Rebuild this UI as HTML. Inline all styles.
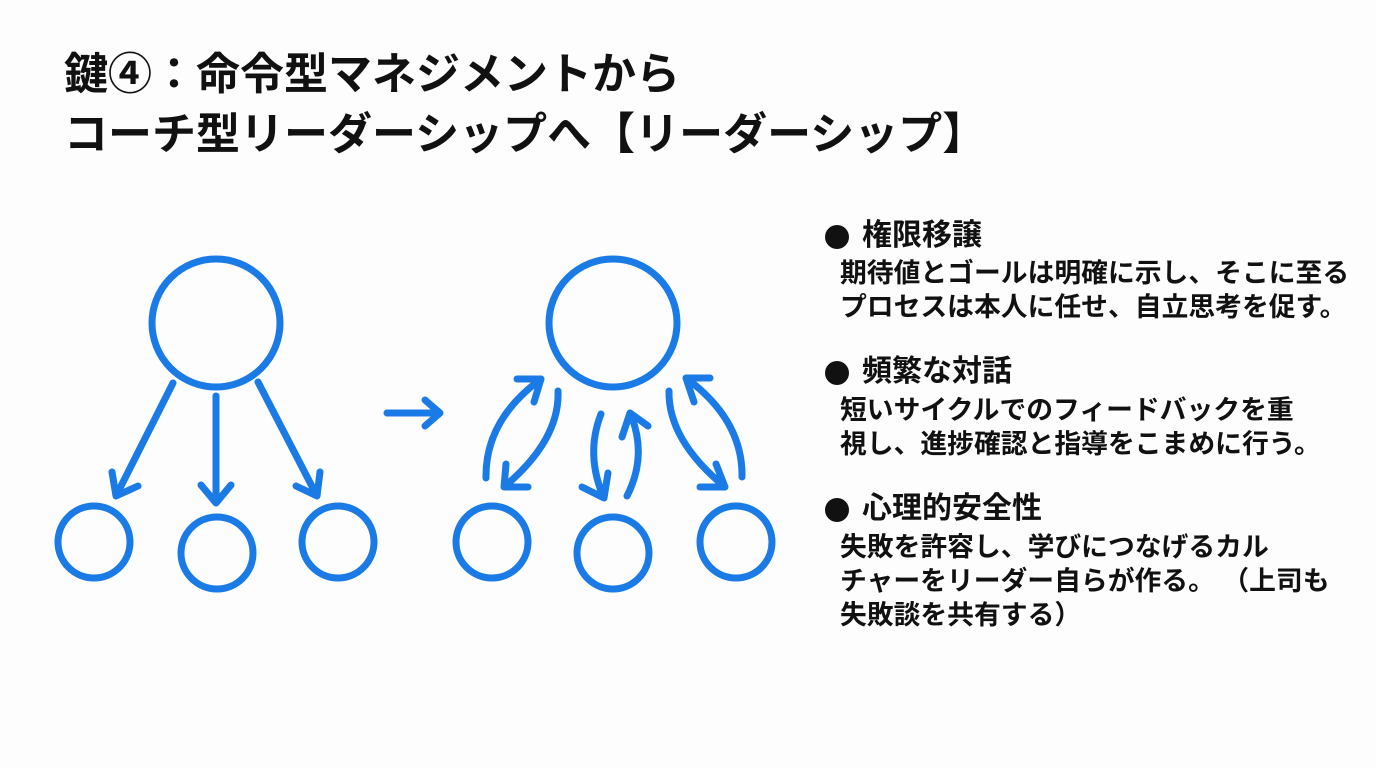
<!DOCTYPE html>
<html><head><meta charset="utf-8"><style>
body{margin:0;width:1376px;height:768px;background:#fdfdfd;overflow:hidden;position:relative;font-family:"Liberation Sans","Noto Sans CJK JP",sans-serif;color:#111}
.t{position:absolute;white-space:nowrap;font-weight:bold}
.title{font-size:44px;left:64px;line-height:1}
.h{font-size:30px;left:862px;line-height:1}
.dot{position:absolute;left:825px;width:24px;height:24px;border-radius:50%;background:#111}
.b{font-size:26.8px;left:840px;line-height:1;font-weight:600}
</style></head><body>
<div class="t title" style="top:53px">鍵④：命令型マネジメントから</div>
<div class="t title" style="top:113px">コーチ型リーダーシップへ【リーダーシップ】</div>

<div class="dot" style="top:225px"></div>
<div class="t h" style="top:221px">権限移譲</div>
<div class="t b" style="top:260px">期待値とゴールは明確に示し、そこに至る</div>
<div class="t b" style="top:294px">プロセスは本人に任せ、自立思考を促す。</div>
<div class="dot" style="top:361px"></div>
<div class="t h" style="top:357px">頻繁な対話</div>
<div class="t b" style="top:397px">短いサイクルでのフィードバックを重</div>
<div class="t b" style="top:431px">視し、進捗確認と指導をこまめに行う。</div>
<div class="dot" style="top:498px"></div>
<div class="t h" style="top:494px">心理的安全性</div>
<div class="t b" style="top:534px">失敗を許容し、学びにつなげるカル</div>
<div class="t b" style="top:568px">チャーをリーダー自らが作る。&nbsp;（上司も</div>
<div class="t b" style="top:602px">失敗談を共有する）</div>

<svg width="1376" height="768" style="position:absolute;left:0;top:0" fill="none" stroke="#1a7be6" stroke-width="7" stroke-linecap="round" stroke-linejoin="round">
<circle cx="216" cy="323" r="64"/>
<circle cx="94" cy="542" r="36"/>
<circle cx="217" cy="553" r="36"/>
<circle cx="338" cy="542" r="36"/>
<path d="M173 383 L116 496 M112 472 L116 496 L138 486"/>
<path d="M216 396 L216 503 M201 485 L216 503 L231 485"/>
<path d="M258 382 L317 496 M296 486 L317 496 L320 472"/>
<path d="M387 413 L440 413 M425 400 L440 413 L425 426"/>

<circle cx="613" cy="323" r="64"/>
<circle cx="492" cy="542" r="36"/>
<circle cx="613" cy="553" r="36"/>
<circle cx="736" cy="542" r="36"/>
<path d="M486 478 Q485 420 541 379 M517 379 L541 379 L534 402"/>
<path d="M558 391 Q560 440 504 487 M506 464 L504 487 L528 487"/>
<path d="M601 414 Q585 455 604 498 M582 487 L604 498 L608 473"/>
<path d="M627 496 Q648 455 630 413 M622 437 L630 413 L648 426"/>
<path d="M669 391 Q668 440 725 487 M716 464 L725 487 L700 487"/>
<path d="M742 477 Q743 420 686 378 M710 378 L686 378 L694 402"/>
</svg>
</body></html>
